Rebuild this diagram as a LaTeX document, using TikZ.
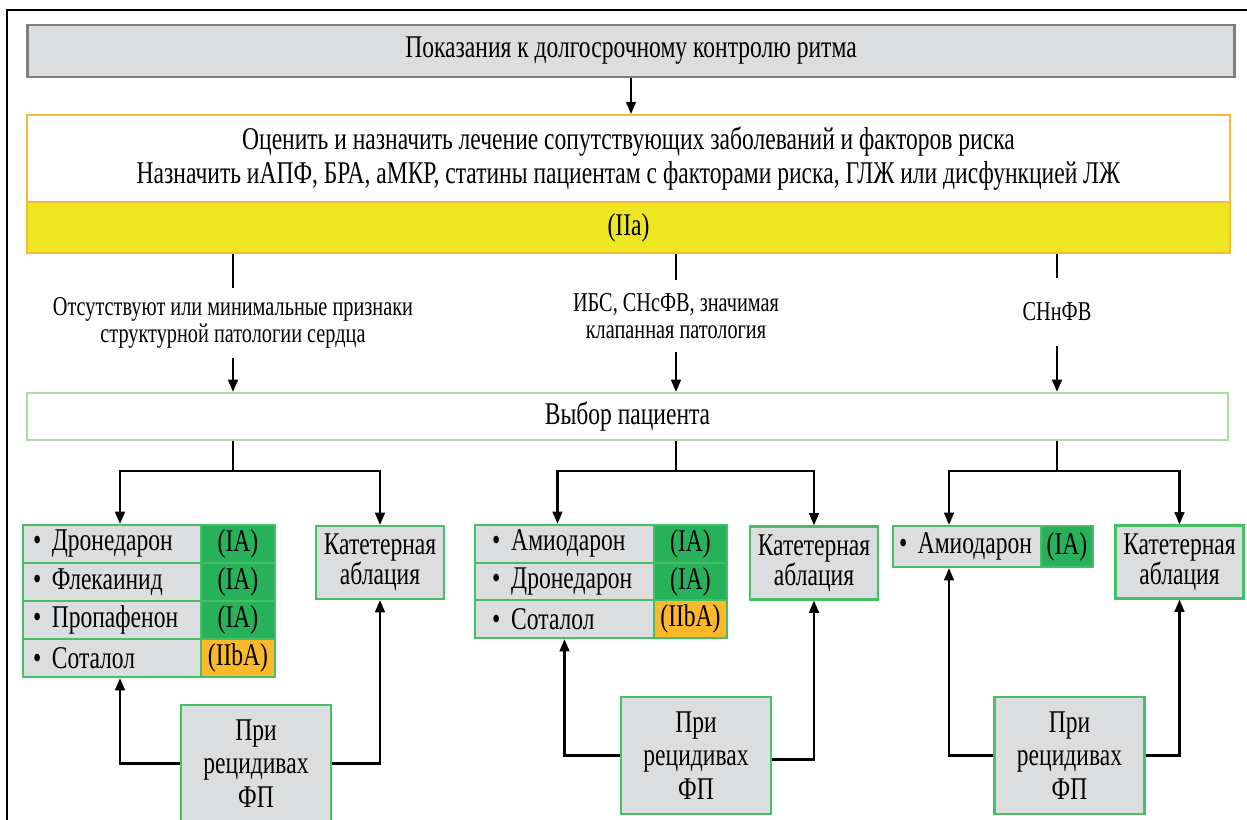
\documentclass[tikz,border=0pt]{standalone}
\usepackage{fontspec}
\setmainfont{Liberation Serif}[FakeStretch=0.745]
\usetikzlibrary{arrows.meta}
\definecolor{boxgray}{HTML}{DCDDDF}
\definecolor{edgegray}{HTML}{7F7F7F}
\definecolor{lineorange}{HTML}{F9B934}
\definecolor{markyellow}{HTML}{EEE620}
\definecolor{classgreen}{HTML}{27B15B}
\definecolor{edgegreen}{HTML}{45C064}
\definecolor{palegreen}{HTML}{AADDA2}
\definecolor{classorange}{HTML}{FBB829}

\begin{document}
\begin{tikzpicture}[x=0.02cm,y=-0.02cm]
\tikzset{every node/.append style={inner sep=0pt,font=\fontsize{18}{19}\selectfont},
  line/.style={line width=1.4pt},
  arr/.style={line width=1.4pt,-{Triangle[length=7pt,width=5.5pt]}},
  wide/.style={minimum width=24.06cm,align=center},
  cond/.style={align=center,font=\fontsize{15.5}{15}\selectfont,inner ysep=0.2cm},
  drug/.style={draw=edgegreen,line width=1.2pt,fill=boxgray,text width=#1,inner xsep=0.2cm,align=left},
  classok/.style={draw=edgegreen,line width=1.2pt,fill=classgreen,minimum width=#1},
  classweak/.style={draw=edgegreen,line width=1.2pt,fill=classorange,minimum width=#1},
  cathbox/.style={draw=edgegreen,line width=1.2pt,fill=boxgray,minimum width=2.56cm,minimum height=1.46cm,align=center,font=\fontsize{18}{17}\selectfont},
  relapse/.style={draw=edgegreen,line width=1.2pt,fill=boxgray,minimum width=3cm,minimum height=2.34cm,align=center}}
\useasboundingbox (0,0) rectangle (1247,820);
\draw [line width=1.5pt] (7,820) -- (7,10) -- (1247,10);

\node [draw=edgegray,line width=1.6pt,fill=boxgray,minimum width=24.16cm,minimum height=1.04cm] (title) at (631,51) {Показания к долгосрочному контролю ритма};
\node [wide,draw=lineorange,line width=1pt,fill=white,minimum height=1.74cm] (assess) at (628.5,158.5) {Оценить и назначить лечение сопутствующих заболеваний и факторов риска\\Назначить иАПФ, БРА, аМКР, статины пациентам с факторами риска, ГЛЖ или дисфункцией ЛЖ};
\node [wide,draw=lineorange,line width=1pt,fill=markyellow,minimum height=1.02cm] (grade) at (628.5,227.5) {(IIa)};
\draw [arr] (title.south) -- (title.south |- assess.north);

\node [cond] (noshd) at (233,323) {Отсутствуют или минимальные признаки\\структурной патологии сердца};
\node [cond,inner ysep=0.26cm] (ihd) at (676,316) {ИБС, СНсФВ, значимая\\клапанная патология};
\node [cond,inner ysep=0.5cm] (hfref) at (1057,312) {СНнФВ};
\node [wide,minimum width=24.02cm,draw=palegreen,line width=1.2pt,fill=white,minimum height=0.94cm] (choice) at (627.5,416.5) {Выбор пациента};
\foreach \g in {noshd,ihd,hfref}{
  \draw [line] (grade.south -| \g.north) -- (\g.north);
  \draw [arr] (\g.south) -- (\g.south |- choice.north);
}

\node [drug=3.16cm,minimum height=0.76cm] (dl1) at (112,544) {• Дронедарон};
\node [drug=3.16cm,minimum height=0.76cm] (dl2) at (112,582) {• Флекаинид};
\node [drug=3.16cm,minimum height=0.76cm] (dl3) at (112,620) {• Пропафенон};
\node [drug=3.16cm,minimum height=0.76cm] (dl4) at (112,658) {• Соталол};
\node [classok=1.48cm,minimum height=0.76cm] (cl1) at (238,544) {(IA)};
\node [classok=1.48cm,minimum height=0.76cm] (cl2) at (238,582) {(IA)};
\node [classok=1.48cm,minimum height=0.76cm] (cl3) at (238,620) {(IA)};
\node [classweak=1.48cm,minimum height=0.76cm] (cl4) at (238,658) {(IIbA)};
\node [cathbox] (catl) at (380,562.5) {Катетерная\\аблация};
\node [relapse] (recl) at (256,763.5) {При\\рецидивах\\ФП};

\node [drug=2.9cm,minimum height=0.755cm,inner xsep=0.34cm] (dm1) at (564.5,543.8) {•\hspace{0.22cm}Амиодарон};
\node [drug=2.9cm,minimum height=0.755cm,inner xsep=0.34cm] (dm2) at (564.5,581.5) {•\hspace{0.22cm}Дронедарон};
\node [drug=2.9cm,minimum height=0.755cm,inner xsep=0.34cm] (dm3) at (564.5,619.2) {•\hspace{0.22cm}Соталол};
\node [classok=1.46cm,minimum height=0.755cm] (cm1) at (690.5,543.8) {(IA)};
\node [classok=1.46cm,minimum height=0.755cm] (cm2) at (690.5,581.5) {(IA)};
\node [classweak=1.46cm,minimum height=0.755cm] (cm3) at (690.5,619.2) {(IIbA)};
\node [cathbox] (catm) at (814,563) {Катетерная\\аблация};
\node [relapse] (recm) at (696,755.5) {При\\рецидивах\\ФП};

\node [drug=2.72cm,minimum height=0.82cm,inner xsep=0.12cm] (dr1) at (967,546.5) {• Амиодарон};
\node [classok=1.04cm,minimum height=0.82cm] (cr1) at (1067,546.5) {(IA)};
\node [cathbox] (catr) at (1179.5,562) {Катетерная\\аблация};
\node [relapse] (recr) at (1069.5,755.5) {При\\рецидивах\\ФП};

\coordinate (sl) at (233,471);
\coordinate (sm) at (676,471);
\coordinate (sr) at (1057,471);
\draw [line] (choice.south -| sl) -- (sl);
\draw [arr] (sl) -| ([xshift=0.16cm]dl1.north);
\draw [arr] (sl) -| (catl.north);
\draw [line] (choice.south -| sm) -- (sm);
\draw [arr] (sm) -| ([xshift=-0.14cm]dm1.north);
\draw [arr] (sm) -| (catm.north);
\draw [line] (choice.south -| sr) -- (sr);
\draw [arr] (sr) -| ([xshift=-0.36cm]dr1.north);
\draw [arr] (sr) -| (catr.north);

\draw [arr] (recl.west) -| ([xshift=0.16cm]dl4.south);
\draw [arr] (recl.east) -| (catl.south);
\draw [arr] (recm.west) -| (dm3.south);
\draw [arr] ([yshift=-0.08cm]recm.east) -| (catm.south);
\draw [arr] (recr.west) -| ([xshift=-0.36cm]dr1.south);
\draw [arr] (recr.east) -| (catr.south);
\end{tikzpicture}
\end{document}
